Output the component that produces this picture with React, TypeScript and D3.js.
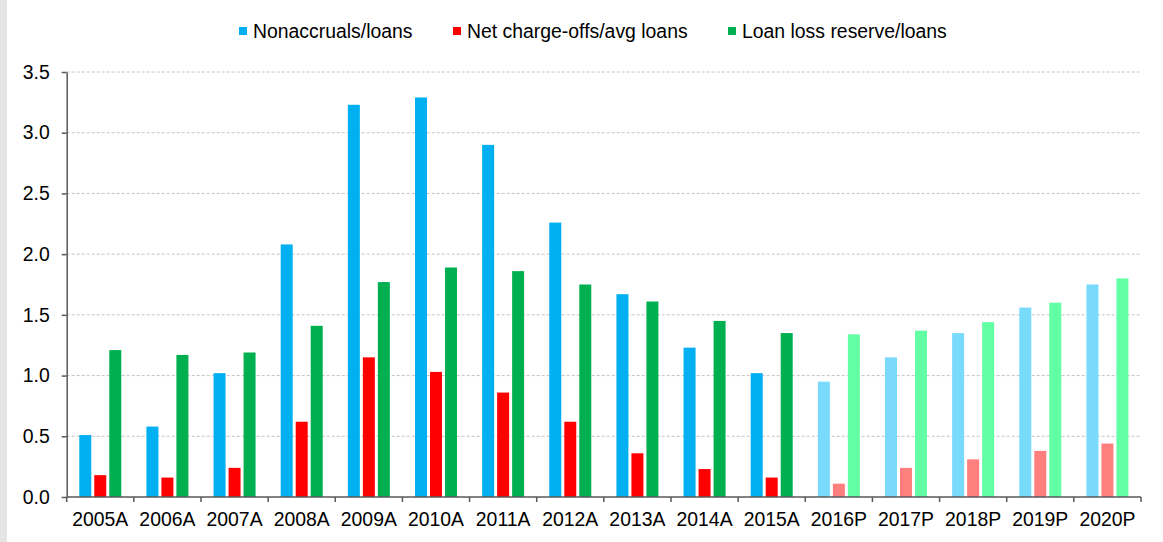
import { useEffect, useRef } from 'react';
import * as d3 from 'd3';

const categories = ['2005A', '2006A', '2007A', '2008A', '2009A', '2010A', '2011A', '2012A', '2013A', '2014A', '2015A', '2016P', '2017P', '2018P', '2019P', '2020P'];
const seriesNames = ['Nonaccruals/loans', 'Net charge-offs/avg loans', 'Loan loss reserve/loans'];
const nonaccruals = [0.51, 0.58, 1.02, 2.08, 3.23, 3.29, 2.90, 2.26, 1.67, 1.23, 1.02, 0.95, 1.15, 1.35, 1.56, 1.75];
const chargeOffs = [0.18, 0.16, 0.24, 0.62, 1.15, 1.03, 0.86, 0.62, 0.36, 0.23, 0.16, 0.11, 0.24, 0.31, 0.38, 0.44];
const reserve = [1.21, 1.17, 1.19, 1.41, 1.77, 1.89, 1.86, 1.75, 1.61, 1.45, 1.35, 1.34, 1.37, 1.44, 1.60, 1.80];
const yTicks = [0, 0.5, 1, 1.5, 2, 2.5, 3, 3.5];

const actualColors = ['#00b0f0', '#ff0000', '#00b050'];
const projectedColors = ['#79dafc', '#ff7f7f', '#62ffa5'];

export default function App() {
  const svgRef = useRef<SVGSVGElement>(null);

  useEffect(() => {
    if (!svgRef.current) return;
    const width = 1163;
    const height = 542;
    const svg = d3.select(svgRef.current);
    svg.selectAll('*').remove();
    svg.attr('width', width).attr('height', height);

    const font = '"Liberation Sans", Arial, sans-serif';
    const fontSize = 19.4;
    const margin = { top: 72, right: 22, bottom: 45, left: 66.7 };
    const innerWidth = width - margin.left - margin.right;
    const innerHeight = height - margin.top - margin.bottom;

    // left gray strip
    svg.append('rect').attr('x', 0).attr('y', 0).attr('width', 7).attr('height', height).attr('fill', '#e4e5e4');

    const g = svg.append('g').attr('transform', `translate(${margin.left},${margin.top})`);

    const x = d3.scaleBand().domain(categories).range([0, innerWidth]);
    const bw = x.bandwidth();
    const inner = d3.scaleBand<number>().domain([0, 1, 2]).range([bw / 2 - 21, bw / 2 + 21]).paddingInner(0.2);
    const y = d3.scaleLinear().domain([0, 3.5]).range([innerHeight, 0]);

    // grid
    g.append('g')
      .selectAll('line')
      .data(yTicks.filter(t => t > 0))
      .join('line')
      .attr('x1', 0)
      .attr('x2', innerWidth)
      .attr('y1', d => y(d))
      .attr('y2', d => y(d))
      .attr('stroke', '#c4c4c4')
      .attr('stroke-width', 1)
      .attr('stroke-dasharray', '3,2');

    const series = [nonaccruals, chargeOffs, reserve];
    series.forEach((vals, si) => {
      g.append('g')
        .selectAll('rect')
        .data(vals)
        .join('rect')
        .attr('x', (_, i) => (x(categories[i]) as number) + (inner(si) as number))
        .attr('y', d => y(d))
        .attr('width', inner.bandwidth())
        .attr('height', d => innerHeight - y(d))
        .attr('fill', (_, i) => (categories[i].endsWith('P') ? projectedColors[si] : actualColors[si]));
    });

    // y axis
    const yAxis = g.append('g').call(
      d3.axisLeft(y).tickValues(yTicks).tickFormat(d3.format('.1f')).tickSize(5).tickSizeOuter(0)
    );
    yAxis.select('.domain').attr('stroke', '#595959').attr('stroke-width', 1.5);
    yAxis.selectAll('.tick line').attr('stroke', '#595959').attr('stroke-width', 1.5);
    yAxis.selectAll('.tick text')
      .attr('fill', '#000')
      .attr('font-family', font)
      .attr('font-size', fontSize)
      .attr('x', -17);

    // x axis
    const xAxisG = g.append('g').attr('transform', `translate(0,${innerHeight})`);
    xAxisG.append('line')
      .attr('x1', 0).attr('x2', innerWidth)
      .attr('stroke', '#595959').attr('stroke-width', 1.5);
    const edges = categories.map(c => x(c) as number).concat([innerWidth]);
    xAxisG.selectAll('line.tk')
      .data(edges)
      .join('line')
      .attr('class', 'tk')
      .attr('x1', d => d).attr('x2', d => d)
      .attr('y1', 0).attr('y2', 5)
      .attr('stroke', '#595959').attr('stroke-width', 1.5);
    xAxisG.selectAll('text')
      .data(categories)
      .join('text')
      .attr('x', d => (x(d) as number) + bw / 2)
      .attr('y', 29)
      .attr('text-anchor', 'middle')
      .attr('font-family', font)
      .attr('font-size', fontSize)
      .attr('fill', '#000')
      .text(d => d);

    // legend
    const legendX = [239, 453, 728];
    const legend = svg.append('g');
    seriesNames.forEach((name, i) => {
      legend.append('rect')
        .attr('x', legendX[i]).attr('y', 27)
        .attr('width', 8).attr('height', 8)
        .attr('fill', actualColors[i]);
      legend.append('text')
        .attr('x', legendX[i] + 14)
        .attr('y', 38)
        .attr('font-family', font)
        .attr('font-size', fontSize)
        .attr('fill', '#000')
        .text(name);
    });
  }, []);

  return (
    <div style={{ position: 'absolute', left: 0, top: 0, background: '#fff' }}>
      <svg ref={svgRef} style={{ display: 'block' }} />
    </div>
  );
}
